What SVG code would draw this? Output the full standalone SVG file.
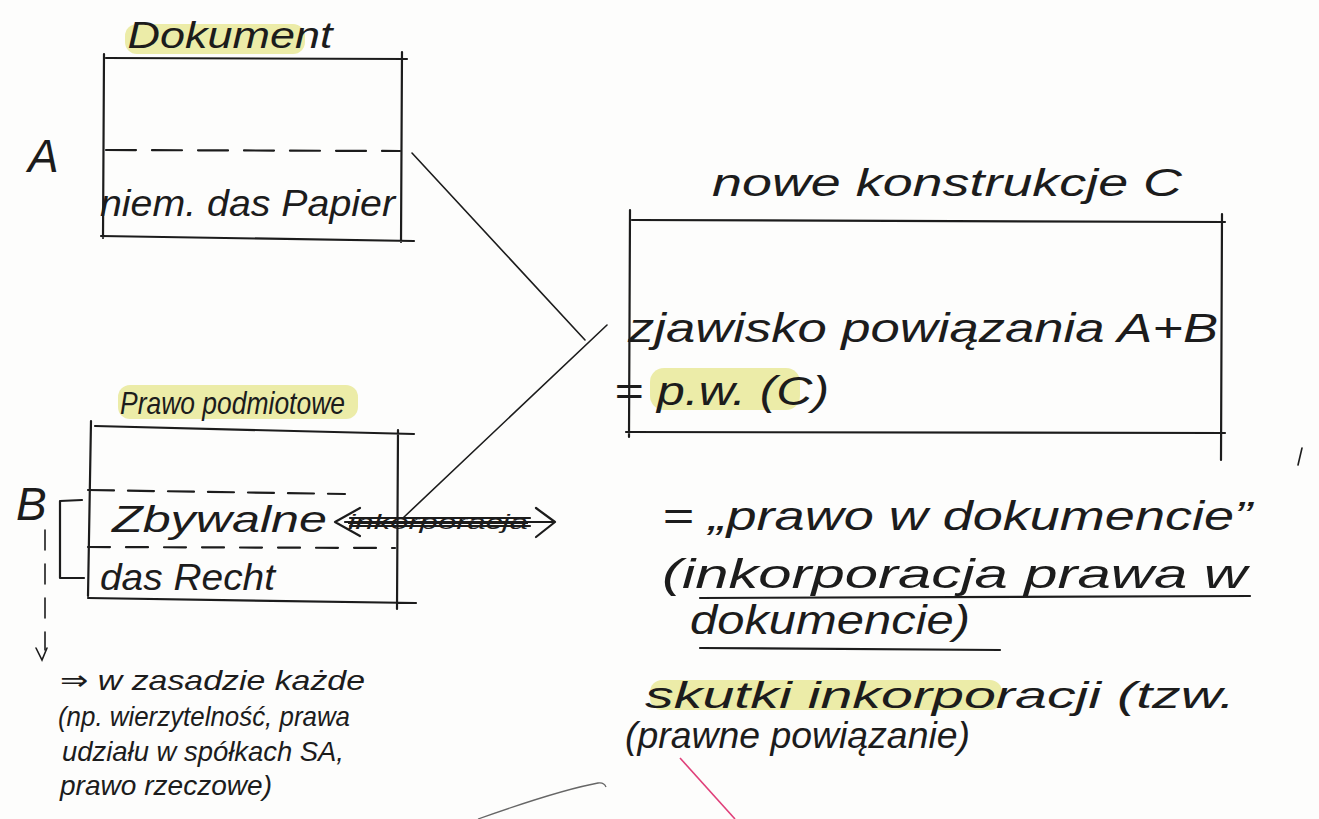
<svg xmlns="http://www.w3.org/2000/svg" width="1319" height="819" viewBox="0 0 1319 819">
<style>
.ink{fill:none;stroke:#1c1c1c;stroke-width:2.2;stroke-linecap:round;stroke-linejoin:round}
.thin{fill:none;stroke:#1c1c1c;stroke-width:1.6;stroke-linecap:round}
.dash{fill:none;stroke:#1c1c1c;stroke-width:2.2;stroke-dasharray:30 16;stroke-linecap:round}
.hl{fill:#e6e68c;opacity:0.75}
text{font-family:"Liberation Sans","DejaVu Sans",sans-serif;font-style:italic;fill:#1c1c1c}
.t{font-size:36px}
.big{font-size:46px}
</style>
<rect width="1319" height="819" fill="#fdfdfc"/>

<g id="nodeA">
  <rect class="hl" x="125" y="24" width="180" height="30" rx="12"/>
  <text class="t" x="230" y="48" text-anchor="middle" textLength="205" lengthAdjust="spacingAndGlyphs">Dokument</text>
  <text class="big" x="28" y="172">A</text>
  <path class="ink" d="M104 54 L103 238 M402 52 L401 242 M106 58 L407 59 M101 236 L414 241"/>
  <path class="dash" d="M106 150 L400 151"/>
  <text class="t" x="100" y="216" textLength="295" lengthAdjust="spacingAndGlyphs">niem. das Papier</text>
</g>

<g id="nodeB">
  <rect class="hl" x="118" y="385" width="240" height="34" rx="12"/>
  <text style="font-size:32px" x="120" y="414" textLength="225" lengthAdjust="spacingAndGlyphs">Prawo podmiotowe</text>
  <text class="big" x="16" y="520">B</text>
  <path class="ink" d="M91 421 L88 596 M398 430 L397 609 M95 426 L414 434 M88 598 L416 603"/>
  <path class="dash" style="stroke-dasharray:26 14" d="M88 490 L345 494"/>
  <path class="dash" style="stroke-dasharray:22 16" d="M88 547 L395 548"/>
  <text class="t" x="112" y="532" textLength="215" lengthAdjust="spacingAndGlyphs">Zbywalne</text>
  <text class="t" x="100" y="590" textLength="175" lengthAdjust="spacingAndGlyphs">das Recht</text>
  <path class="ink" d="M82 500 L60 501 L60 578 L84 578"/>
  <path class="thin" d="M45 530 L45 650" style="stroke-dasharray:20 14"/>
  <path class="thin" d="M36 648 L42 660 L47 648"/>
</g>

<g id="note">
  <text style="font-size:28px" x="60" y="690" textLength="305" lengthAdjust="spacingAndGlyphs">⇒ w zasadzie każde</text>
  <text style="font-size:28px" x="58" y="726" textLength="292" lengthAdjust="spacingAndGlyphs">(np. wierzytelność, prawa</text>
  <text style="font-size:28px" x="62" y="761" textLength="282" lengthAdjust="spacingAndGlyphs">udziału w spółkach SA,</text>
  <text style="font-size:28px" x="60" y="795" textLength="212" lengthAdjust="spacingAndGlyphs">prawo rzeczowe)</text>
</g>

<g id="nodeC">
  <text style="font-size:38px" x="712" y="196" textLength="470" lengthAdjust="spacingAndGlyphs">nowe konstrukcje C</text>
  <path class="ink" d="M630 210 L629 437 M1222 214 L1221 460 M632 220 L1225 222 M626 432 L1225 433"/>
  <text style="font-size:40px" x="628" y="342" textLength="590" lengthAdjust="spacingAndGlyphs">zjawisko powiązania A+B</text>
  <rect class="hl" x="650" y="368" width="150" height="42" rx="14"/>
  <text style="font-size:40px" x="614" y="405" textLength="215" lengthAdjust="spacingAndGlyphs">= p.w. (C)</text>
  <path class="thin" d="M1302 448 L1298 465"/>
</g>

<g id="notesC">
  <text style="font-size:40px" x="662" y="530" textLength="590" lengthAdjust="spacingAndGlyphs">= „prawo w dokumencie”</text>
  <text style="font-size:40px" x="662" y="588" textLength="585" lengthAdjust="spacingAndGlyphs">(inkorporacja prawa w</text>
  <path class="ink" d="M700 598 L1250 596"/>
  <text style="font-size:40px" x="690" y="634" textLength="280" lengthAdjust="spacingAndGlyphs">dokumencie)</text>
  <path class="ink" d="M700 648 L1000 650"/>
  <rect class="hl" x="650" y="680" width="352" height="30" rx="12"/>
  <text style="font-size:36px" x="645" y="708" textLength="590" lengthAdjust="spacingAndGlyphs">skutki inkorporacji (tzw.</text>
  <text style="font-size:36px" x="625" y="748" textLength="345" lengthAdjust="spacingAndGlyphs">(prawne powiązanie)</text>
</g>

<g id="connectors">
  <path class="thin" d="M412 153 L585 340"/>
  <path class="thin" d="M607 325 L403 518"/>
  <path class="ink" d="M345 522 L552 522 M360 508 L335 522 L360 536 M536 508 L555 522 L536 537"/>
  <text style="font-size:20px" x="348" y="529" textLength="180" lengthAdjust="spacingAndGlyphs" text-decoration="line-through">inkorporacja</text>
  <path class="ink" d="M350 518 L530 518 M350 526 L530 526"/>
  <path fill="none" stroke="#666" stroke-width="1.3" d="M478 819 Q560 790 598 783 Q604 782 606 787"/>
  <path fill="none" stroke="#e0407a" stroke-width="1.6" d="M680 758 L735 819"/>
</g>
</svg>
